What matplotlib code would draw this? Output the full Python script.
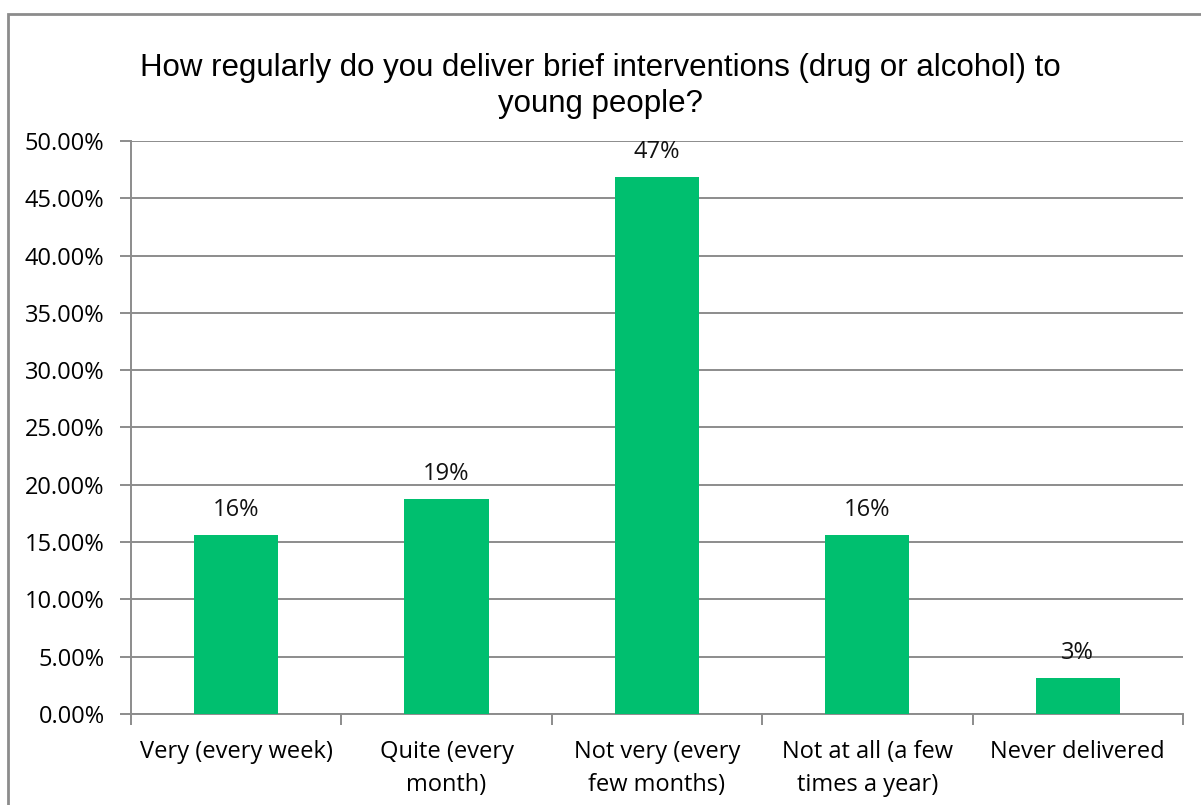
import numpy as np
import matplotlib.pyplot as plt
from matplotlib.patches import Rectangle
from matplotlib.ticker import FuncFormatter

# Survey responses (share of respondents)
categories = ["Very (every week)", "Quite (every\nmonth)", "Not very (every\nfew months)",
              "Not at all (a few\ntimes a year)", "Never delivered"]
shares = [0.15625, 0.1875, 0.46875, 0.15625, 0.03125]
y_ticks = [0.0, 0.05, 0.10, 0.15, 0.20, 0.25, 0.30, 0.35, 0.40, 0.45, 0.50]

bar_color = "#00BF6F"
grid_color = "#8C8C8C"
label_font = "Open Sans"

fig = plt.figure(figsize=(12.01, 8.05), dpi=100)
ax = fig.add_axes([0.109, 0.113, 0.876, 0.712])

# outer chart frame (open on the right and bottom)
fig.patches.append(Rectangle((8 / 1201, -0.01), 1.2, 1 - 14 / 805 + 0.01,
                             transform=fig.transFigure, fill=False,
                             edgecolor=grid_color, linewidth=2))

x = np.arange(len(categories))
ax.bar(x, shares, width=0.4, color=bar_color, zorder=3)

for xi, v in zip(x, shares):
    ax.text(xi, v + 0.0166, f"{v * 100:.0f}%", ha="center", va="baseline",
            fontsize=17, family=label_font, color="#111111", zorder=4)

ax.set_xlim(-0.5, len(categories) - 0.5)
ax.set_ylim(0, 0.5)
ax.set_yticks(y_ticks)
ax.yaxis.set_major_formatter(FuncFormatter(lambda v, p: f"{v * 100:.2f}%"))
ax.set_xticks(x)
ax.set_xticklabels(categories, fontsize=17, family=label_font, linespacing=1.45)
ax.set_xticks(np.arange(len(categories) + 1) - 0.5, minor=True)
for lbl in ax.get_yticklabels():
    lbl.set_fontsize(17)
    lbl.set_family(label_font)

ax.grid(axis="y", color=grid_color, linewidth=1.4, zorder=0)
for side in ["top", "right"]:
    ax.spines[side].set_visible(False)
ax.spines["left"].set_color(grid_color)
ax.spines["bottom"].set_color(grid_color)
ax.spines["left"].set_linewidth(1.4)
ax.spines["bottom"].set_linewidth(1.4)
ax.tick_params(axis="x", which="major", length=0, pad=19)
ax.tick_params(axis="x", which="minor", length=8, color=grid_color, width=1.4)
ax.tick_params(axis="y", length=8, color=grid_color, width=1.4, pad=11)

fig.text(0.5, 0.893, "How regularly do you deliver brief interventions (drug or alcohol) to\nyoung people?",
         ha="center", va="center", fontsize=22.5, family="Liberation Sans", linespacing=1.27)

fig.savefig("out.png", dpi=100)
